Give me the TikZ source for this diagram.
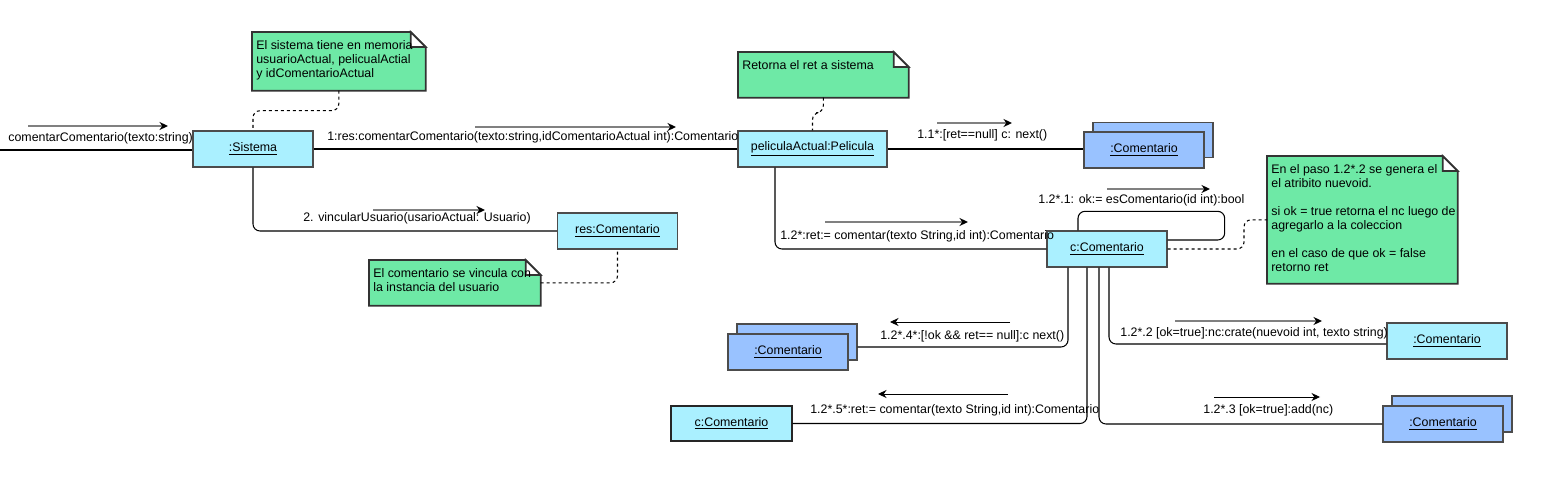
\documentclass[tikz,border=0pt]{standalone}
\usepackage{fontspec}
\setmainfont{Liberation Sans}
\usetikzlibrary{arrows.meta}

\definecolor{objcyan}{RGB}{170,240,255}
\definecolor{objblue}{RGB}{153,194,255}
\definecolor{notegreen}{RGB}{110,233,166}
\definecolor{msggray}{RGB}{128,128,128}

\newcommand{\lbl}{\fontsize{7.05}{7.97}\selectfont}
% note outline with folded corner
\newcommand{\dognote}[1]{%
  \draw[noteline] (#1.south west) -- (#1.north west) -- ([xshift=-0.3cm]#1.north east)
    -- ([yshift=-0.3cm]#1.north east) -- (#1.south east) -- cycle;
  \draw[noteline, fill=white] ([xshift=-0.3cm]#1.north east) -- ([xshift=-0.3cm,yshift=-0.3cm]#1.north east)
    -- ([yshift=-0.3cm]#1.north east) -- cycle;}

\begin{document}
\begin{tikzpicture}[
    x=0.02cm, y=-0.02cm,
    obj/.style={rectangle, draw=black!70, line width=0.8pt, fill=objcyan, minimum width=2.4cm, minimum height=0.72cm, inner sep=0pt, font=\lbl},
    stack/.style={obj, fill=objblue},
    noteshape/.style={rectangle, anchor=north west, inner sep=0pt},
    noteline/.style={draw=black!80, line width=1pt, fill=notegreen},
    notetxt/.style={anchor=north west, align=left, inner sep=0pt, font=\lbl, xshift=0.08cm, yshift=-0.17cm},
    msglbl/.style={anchor=west, inner sep=0pt, font=\lbl},
    link/.style={draw=black, line width=0.6pt, rounded corners=0.14cm},
    dashlink/.style={link, dash pattern=on 0.06cm off 0.06cm},
    msg/.style={draw=msggray, line width=1.1pt, -{Stealth[length=0.17cm, width=0.16cm, black]}},
    msgback/.style={draw=black, line width=0.5pt, -{Stealth[length=0.17cm, width=0.16cm, black]}}
  ]
    \useasboundingbox (0,0) rectangle (1555,486);

    % Notes
    \node[noteshape, minimum width=3.46cm, minimum height=1.16cm] (nota1) at (252,32) {};
    \dognote{nota1}
    \node[notetxt] (nota1txt) at (nota1.north west) {El sistema tiene en memoria\\usuarioActual, pelicualActial\\y idComentarioActual};

    \node[noteshape, minimum width=3.4cm, minimum height=0.9cm] (nota2) at (738,52) {};
    \dognote{nota2}
    \node[notetxt] (nota2txt) at (nota2.north west) {Retorna el ret a sistema};

    \node[noteshape, minimum width=3.42cm, minimum height=0.9cm] (nota4) at (369,260) {};
    \dognote{nota4}
    \node[notetxt] (nota4txt) at (nota4.north west) {El comentario se vincula con\\la instancia del usuario};

    \node[noteshape, minimum width=3.8cm, minimum height=2.54cm] (nota3) at (1267,156) {};
    \dognote{nota3}
    \node[notetxt] (nota3txt) at (nota3.north west) {En el paso 1.2*.2 se genera el\\el atribito nuevoid.\\[7.97pt]si ok = true retorna el nc luego de\\agregarlo a la coleccion\\[7.97pt]en el caso de que ok = false\\retorno ret};

    % Objects
    \node[obj] (sis) at (253,149) {\underline{:Sistema}};
    \node[obj, minimum width=2.98cm] (pel) at (812.5,149) {\underline{peliculaActual:Pelicula}};
    \node[stack, minimum height=0.7cm] (colAb) at (1153,140) {};
    \node[stack] (colA) at (1144,150) {\underline{:Comentario}};
    \node[obj] (res) at (617.5,231) {\underline{res:Comentario}};
    \node[obj] (cc) at (1107,249) {\underline{c:Comentario}};
    \node[stack] (colBb) at (797,342) {};
    \node[stack] (colB) at (788,352) {\underline{:Comentario}};
    \node[obj, draw=black!85, line width=0.6pt, minimum width=2.42cm, minimum height=0.7cm] (cc2) at (731.5,423.5) {\underline{c:Comentario}};
    \node[obj] (nc) at (1447,341) {\underline{:Comentario}};
    \node[stack] (colCb) at (1452,414) {};
    \node[stack] (colC) at (1443,424) {\underline{:Comentario}};

    % Links
    \coordinate (entrada) at (0,150);
    \draw[link] (entrada) -- (entrada -| sis.west);
    \draw[link] (sis.east) -- (pel.west);
    \draw[link, line width=1.1pt] (pel.east) -- (pel.east -| colA.west);
    \draw[link] (sis.south) |- (res.west);
    \draw[link] ([xshift=-0.75cm]pel.south) |- (cc.west);
    \draw[link] ([xshift=-0.58cm]cc.north) |- ([xshift=1.14cm, yshift=0.38cm]cc.north east) |- ([yshift=0.18cm]cc.east);
    \draw[link] ([xshift=-0.78cm]cc.south) |- ([yshift=-0.1cm]colBb.east);
    \draw[link] ([xshift=-0.4cm]cc.south) |- (cc2.east);
    \draw[link] ([xshift=-0.16cm]cc.south) |- (colC.west);
    \draw[link] ([xshift=0.04cm]cc.south) |- ([yshift=-0.06cm]nc.west);

    % Note anchors
    \draw[dashlink] (nota1.south) -- ++(0,20) -| (sis.north);
    \draw[dashlink] (nota2.south) -- ++(0,15) -| (pel.north);
    \draw[dashlink] (nota4.east) -| (res.south);
    \draw[dashlink] (cc.east) -| ([xshift=-0.46cm]nota3.west) -- (nota3.west);

    % Messages
    \node[msglbl] (l0) at (8,138) {comentarComentario(texto:string)};
    \node[msglbl] (l1) at (327,137) {1:res:comentarComentario(texto:string,idComentarioActual int):Comentario};
    \node[msglbl] (l11) at (917,135) {1.1*:[ret==null] c: next()};
    \node[msglbl] (l2) at (303,218) {2. vincularUsuario(usarioActual: Usuario)};
    \node[msglbl] (l12) at (780,236) {1.2*:ret:= comentar(texto String,id int):Comentario};
    \node[msglbl] (l121) at (1038,200) {1.2*.1: ok:= esComentario(id int):bool};
    \node[msglbl] (l124) at (880,336) {1.2*.4*:[!ok \&\& ret== null]:c next()};
    \node[msglbl] (l125) at (810,410) {1.2*.5*:ret:= comentar(texto String,id int):Comentario};
    \node[msglbl] (l122) at (1120,333) {1.2*.2 [ok=true]:nc:crate(nuevoid int, texto string)};
    \node[msglbl] (l123) at (1203,410) {1.2*.3 [ok=true]:add(nc)};

    % Message arrows
    \coordinate (m0s) at (28,126);     \coordinate (m0e) at (168,126);
    \coordinate (m1s) at (475,127);    \coordinate (m1e) at (676,127);
    \coordinate (m11s) at (937,123);   \coordinate (m11e) at (1012,123);
    \coordinate (m2s) at (373,210);    \coordinate (m2e) at (485,210);
    \coordinate (m12s) at (825,222);   \coordinate (m12e) at (968,222);
    \coordinate (m121s) at (1107,189); \coordinate (m121e) at (1210,189);
    \coordinate (m124s) at (1010,322); \coordinate (m124e) at (890,322);
    \coordinate (m125s) at (1008,394); \coordinate (m125e) at (878,394);
    \coordinate (m122s) at (1175,321); \coordinate (m122e) at (1322,321);
    \coordinate (m123s) at (1214,397); \coordinate (m123e) at (1320,397);
    \draw[msg] (m0s) -- (m0e);
    \draw[msg] (m1s) -- (m1e);
    \draw[msg] (m11s) -- (m11e);
    \draw[msg] (m2s) -- (m2e);
    \draw[msg] (m12s) -- (m12e);
    \draw[msg] (m121s) -- (m121e);
    \draw[msgback] (m124s) -- (m124e);
    \draw[msgback] (m125s) -- (m125e);
    \draw[msg] (m122s) -- (m122e);
    \draw[msgback] (m123s) -- (m123e);

  \end{tikzpicture}
\end{document}
